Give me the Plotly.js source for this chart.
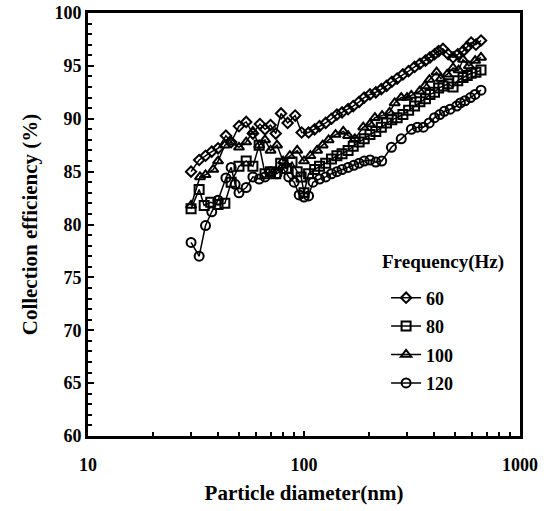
<!DOCTYPE html>
<html><head><meta charset="utf-8">
<script src="https://cdn.plot.ly/plotly-3.0.1.min.js"></script>
<style>html,body{margin:0;padding:0;background:#fff}#c{width:548px;height:511px}</style>
</head><body><div id="c"></div>
<script>
const seriesNames = ["60", "80", "100", "120"];
const legendTitle = "Frequency(Hz)";
const d60 = [30,32.7,35,37.4,40,43.5,46,50,54,58,62.5,66,70,74,78.3,84,91,97.5,105,112,118,126,134,142,150,160,169,180,190,202,215,228,241,255,270,287,305,325,344,365,383,402,420,440,465,490,515,545,570,594,625,660];
const e60 = [85.0,86.1,86.5,86.9,87.2,88.4,87.8,89.3,89.7,88.6,89.5,89.0,89.4,88.6,90.5,89.6,90.3,88.7,88.7,89.0,89.3,89.6,90.0,90.4,90.6,90.9,91.2,91.6,92.0,92.3,92.5,92.8,93.1,93.5,93.8,94.2,94.5,94.9,95.2,95.5,95.8,96.1,96.4,96.6,96.1,95.8,96.1,96.4,96.8,97.2,97.0,97.4];
const d80 = [30,32.7,34.5,37,40,43,46,50,54,58,62,66,70,74,78,83,88,93,97,100,105,112,118,126,134,142,150,160,169,180,190,202,215,228,241,255,270,287,305,325,344,365,383,402,420,440,465,490,515,545,570,594,625,660];
const e80 = [81.5,83.3,81.8,82.1,81.9,82.0,84.0,85.5,86.0,85.5,87.5,84.8,85.0,84.8,85.8,85.3,85.9,85.0,84.5,83.0,84.8,85.2,85.5,85.8,86.2,86.5,86.7,87.0,87.4,87.8,88.1,88.5,88.8,89.2,89.6,89.9,90.1,90.4,90.8,91.2,91.6,91.9,92.3,92.5,92.9,93.1,93.3,93.0,93.6,93.9,94.1,94.3,94.4,94.6];
const d100 = [30,33,35,38,40,43,46,50,54,58,62,66,70,75,80,86,93,100,107,115,122,130,140,152,160,172,188,202,213,230,249,263,282,300,314,343,363,381,411,430,460,490,520,545,580,620,660];
const e100 = [81.8,84.5,84.7,85.2,86.0,87.5,87.8,87.3,87.8,88.8,87.5,88.0,87.0,87.5,86.0,86.5,87.0,86.0,86.5,87.0,87.5,88.0,88.5,88.8,88.4,88.1,89.2,89.5,90.1,90.3,90.6,91.5,92.0,92.0,92.2,92.6,93.1,93.7,94.4,93.8,94.2,94.8,94.6,95.6,95.0,95.5,95.8];
const d120 = [30,32.7,35,37.4,40,43.5,46,48,50,54,58,62,66,70,75,80,85,90,95,100,105,110,118,126,134,142,150,160,170,180,190,202,215,229,254,282,314,335,357,380,402,425,446,475,509,530,556,590,619,660];
const e120 = [78.3,77.0,79.9,81.2,82.3,84.4,85.4,83.8,83.0,83.5,84.5,84.3,84.5,85.0,84.8,85.3,84.5,84.0,82.8,82.6,82.7,84.0,84.3,84.5,84.8,85.0,85.2,85.4,85.6,85.8,86.0,86.1,85.9,86.0,87.3,88.1,89.0,89.2,89.2,89.6,90.1,90.4,90.7,90.9,91.2,91.5,91.7,92.0,92.3,92.7];
const xTickVals = [10, 100, 1000];
const xTickText = ["10", "100", "1000"];
const xMinorVals = [20,30,40,50,60,70,80,90,200,300,400,500,600,700,800,900];

const symbols = ["diamond-open", "square-open", "triangle-up-open", "circle-open"];
const sizes = [8, 9, 9, 9];
const xs = [d60, d80, d100, d120];
const ys = [e60, e80, e100, e120];
const traces = seriesNames.map((n, i) => ({
  x: xs[i], y: ys[i], name: n, type: "scatter", mode: "lines+markers",
  legendgroup: "g" + i,
  line: {color: "#000", width: 1.5},
  marker: {symbol: symbols[i], size: sizes[i], color: "#000", line: {color: "#000", width: 2}}
}));
const fam = "Liberation Serif, Times New Roman, serif";
const layout = {
  width: 548, height: 511,
  margin: {l: 88, r: 28, t: 13, b: 75},
  paper_bgcolor: "#fff", plot_bgcolor: "#fff",
  font: {family: fam, color: "#000"},
  showlegend: true,
  legend: {
    x: 0.69, y: 0.370, xanchor: "left", yanchor: "top",
    font: {size: 18, family: fam, color: "#000", weight: "bold"},
    tracegroupgap: 2, bgcolor: "rgba(0,0,0,0)"
  },
  annotations: [{
    text: "<b>" + legendTitle + "</b>", xref: "paper", yref: "paper",
    x: 0.822, y: 0.411, xanchor: "center", yanchor: "middle", showarrow: false,
    font: {size: 19, family: fam, color: "#000"}
  }],
  xaxis: {
    type: "log", range: [1, 3], tickvals: xTickVals, ticktext: xTickText,
    ticks: "inside", ticklen: 5, tickwidth: 2, tickcolor: "#000",
    minor: {tickmode: "array", tickvals: xMinorVals, ticks: "inside", ticklen: 4, tickwidth: 2, tickcolor: "#000", showgrid: false},
    showline: true, linewidth: 3, linecolor: "#000", mirror: true,
    showgrid: false, zeroline: false, ticklabelstandoff: 10,
    tickfont: {size: 18, family: fam, color: "#000", weight: "bold"},
    title: {text: "<b>Particle diameter(nm)</b>", font: {size: 21, family: fam, color: "#000"}, standoff: 12}
  },
  yaxis: {
    range: [60, 100], dtick: 5,
    ticks: "inside", ticklen: 6, tickwidth: 2, tickcolor: "#000",
    minor: {ticks: "inside", dtick: 1, ticklen: 4, tickwidth: 2, tickcolor: "#000", showgrid: false},
    showline: true, linewidth: 3, linecolor: "#000", mirror: true,
    showgrid: false, zeroline: false,
    tickfont: {size: 18, family: fam, color: "#000", weight: "bold"},
    title: {text: "<b>Collection efficiency (%)</b>", font: {size: 21, family: fam, color: "#000"}, standoff: 12}
  }
};
Plotly.newPlot("c", traces, layout, {displayModeBar: false, staticPlot: true});
</script>
</body></html>
